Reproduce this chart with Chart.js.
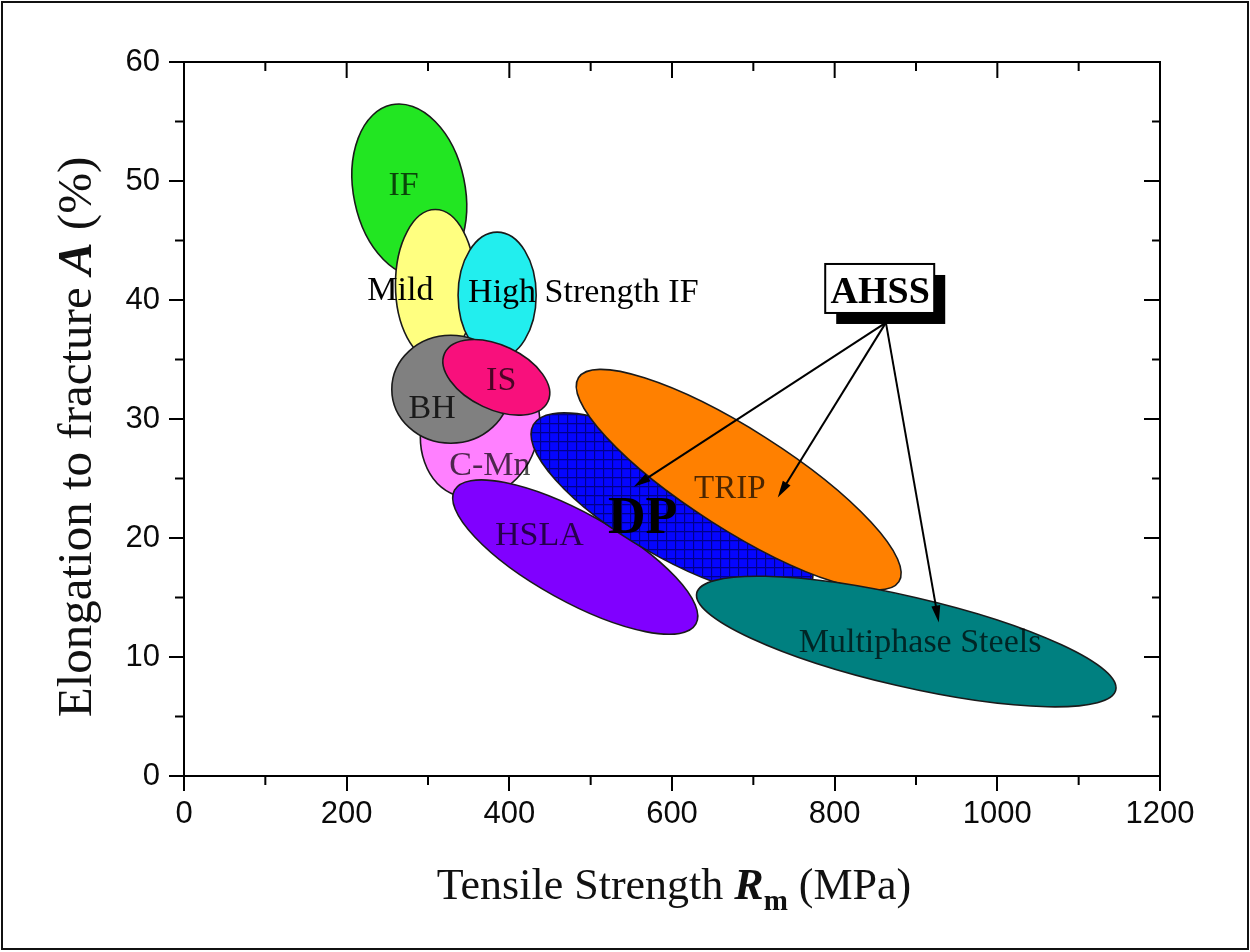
<!DOCTYPE html>
<html>
<head>
<meta charset="utf-8">
<title>Elongation to fracture vs tensile strength</title>
<script src="https://cdn.jsdelivr.net/npm/chart.js@4.4.1/dist/chart.umd.min.js"></script>
<style>
  html, body { margin: 0; padding: 0; background: #fff; }
  #graphique { display: block; }
</style>
</head>
<body>
<canvas id="graphique" width="1250" height="952"></canvas>
<script>
// ==========================================
//  DONNÉES
// ==========================================
const nuances = ['IF', 'Mild', 'High Strength IF', 'C-Mn', 'BH', 'IS', 'HSLA', 'DP', 'TRIP', 'Multiphase Steels'];

// centre de chaque domaine : Rm (MPa), A (%)
const centreRm = [277, 309, 385, 364, 328, 384, 481, 600, 682, 888];
const centreA  = [49.2, 41.3, 40.4, 29.1, 32.5, 33.5, 18.4, 22.8, 24.9, 11.3];

// deux demi-axes conjugués de chaque ellipse (MPa, %)
const axe1Rm = [-22, 0, 0, 67, 72.5, 63.5, 148.4, 170.4, 197, 257.6];
const axe1A  = [7.2, 6.3, 5.3, -1.66, 0, -2.03, -5.62, -6.72, -8.57, -4.07];
const axe2Rm = [67, 49, 48, -29.4, 0, -16.6, -26.2, -32, -33, -12.4];
const axe2A  = [1.0, 0, 0, -5.53, 4.54, -2.44, -3.24, -3.78, -3.54, -3.68];

// position des étiquettes (centre, ligne de base)
const etiquetteRm = [270, 266, 491, 376, 305, 390, 437, 564, 671, 905];
const etiquetteA  = [48.8, 40.0, 39.8, 25.3, 30.1, 32.4, 19.4, 20.4, 23.4, 10.4];

// encadré AHSS et ses flèches
const ahssRm = 856, ahssA = 39.75;
const flecheDepartRm = 863, flecheDepartA = 38.1;
const flecheArriveeRm = [553, 730, 928];
const flecheArriveeA  = [24.3, 23.4, 12.9];

// graduations
const ticksRm = [0, 200, 400, 600, 800, 1000, 1200];
const ticksA  = [0, 10, 20, 30, 40, 50, 60];

// ==========================================
//  STYLES
// ==========================================
const couleurs = ['#22e622', '#ffff80', '#22eeee', '#ff80ff', '#808080', '#f8107c', '#8000ff', 'MOTIF', '#ff8000', '#008080'];
const couleursTexte = ['rgba(0,0,0,0.7)', '#000', '#000', 'rgba(0,0,0,0.7)', 'rgba(0,0,0,0.8)', 'rgba(0,0,0,0.7)',
                       'rgba(0,0,0,0.7)', '#000', 'rgba(0,0,0,0.7)', 'rgba(0,0,0,0.7)'];
const SERIF = '"Liberation Serif", "Times New Roman", serif';
const SANS = '"Liberation Sans", Arial, sans-serif';

function motifDP(ctx) {
    const c = document.createElement('canvas');
    c.width = 9; c.height = 9;
    const g = c.getContext('2d');
    g.fillStyle = '#0505ff';
    g.fillRect(0, 0, 9, 9);
    g.strokeStyle = '#00008c';
    g.lineWidth = 1.3;
    g.beginPath();
    g.moveTo(0, 0.5); g.lineTo(9, 0.5);
    g.moveTo(0.5, 0); g.lineTo(0.5, 9);
    g.stroke();
    return ctx.createPattern(c, 'repeat');
}

// texte composé de morceaux de polices différentes, centré en x
function texteMixte(ctx, morceaux, cx, base) {
    let total = 0;
    morceaux.forEach(m => { ctx.font = m.f; total += ctx.measureText(m.t).width; });
    let x = cx - total / 2;
    ctx.textAlign = 'left';
    ctx.textBaseline = 'alphabetic';
    morceaux.forEach(m => {
        ctx.font = m.f;
        ctx.fillText(m.t, x, base + (m.dy || 0));
        x += ctx.measureText(m.t).width;
    });
}

// ==========================================
//  PLUGINS
// ==========================================
const pluginFond = {
    id: 'fond',
    beforeDraw(chart) {
        const ctx = chart.ctx;
        ctx.save();
        ctx.fillStyle = '#fff';
        ctx.fillRect(0, 0, chart.width, chart.height);
        ctx.restore();
    }
};

const pluginDomaines = {
    id: 'domaines',
    beforeDatasetsDraw(chart) {
        const ctx = chart.ctx;
        const sx = chart.scales.x, sy = chart.scales.y;
        const x0 = sx.getPixelForValue(0), y0 = sy.getPixelForValue(0);
        const motif = motifDP(ctx);

        nuances.forEach((nom, i) => {
            const cx = sx.getPixelForValue(centreRm[i]);
            const cy = sy.getPixelForValue(centreA[i]);
            const ux = sx.getPixelForValue(axe1Rm[i]) - x0, uy = sy.getPixelForValue(axe1A[i]) - y0;
            const vx = sx.getPixelForValue(axe2Rm[i]) - x0, vy = sy.getPixelForValue(axe2A[i]) - y0;

            ctx.save();
            ctx.beginPath();
            ctx.save();
            ctx.transform(ux, uy, vx, vy, cx, cy);
            ctx.arc(0, 0, 1, 0, Math.PI * 2);
            ctx.restore();
            ctx.fillStyle = couleurs[i] === 'MOTIF' ? motif : couleurs[i];
            ctx.fill();
            ctx.lineWidth = 1.6;
            ctx.strokeStyle = '#1a1a1a';
            ctx.stroke();
            ctx.restore();
        });
    },
    afterDatasetsDraw(chart) {
        const ctx = chart.ctx;
        const sx = chart.scales.x, sy = chart.scales.y;
        ctx.save();
        ctx.textAlign = 'center';
        ctx.textBaseline = 'alphabetic';
        nuances.forEach((nom, i) => {
            ctx.font = nom === 'DP' ? 'bold 52px ' + SERIF : (nom === 'TRIP' ? '33px ' : '34px ') + SERIF;
            ctx.fillStyle = couleursTexte[i];
            ctx.fillText(nom, sx.getPixelForValue(etiquetteRm[i]), sy.getPixelForValue(etiquetteA[i]));
        });

        // flèches AHSS
        const ax = sx.getPixelForValue(flecheDepartRm), ay = sy.getPixelForValue(flecheDepartA);
        ctx.strokeStyle = '#000';
        ctx.fillStyle = '#000';
        ctx.lineWidth = 2;
        flecheArriveeRm.forEach((rm, k) => {
            const bx = sx.getPixelForValue(rm), by = sy.getPixelForValue(flecheArriveeA[k]);
            const ang = Math.atan2(by - ay, bx - ax);
            ctx.beginPath();
            ctx.moveTo(ax, ay);
            ctx.lineTo(bx - 10 * Math.cos(ang), by - 10 * Math.sin(ang));
            ctx.stroke();
            ctx.save();
            ctx.translate(bx, by);
            ctx.rotate(ang);
            ctx.beginPath();
            ctx.moveTo(0, 0);
            ctx.lineTo(-17, -4.5);
            ctx.lineTo(-17, 4.5);
            ctx.closePath();
            ctx.fill();
            ctx.restore();
        });

        // encadré AHSS avec ombre
        const tx = sx.getPixelForValue(ahssRm), tb = sy.getPixelForValue(ahssA);
        const bx = tx - 55, by = tb - 39, bw = 109, bh = 49;
        ctx.fillStyle = '#000';
        ctx.fillRect(bx + 11, by + 11, bw, bh);
        ctx.fillStyle = '#fff';
        ctx.fillRect(bx, by, bw, bh);
        ctx.lineWidth = 2;
        ctx.strokeRect(bx, by, bw, bh);
        ctx.fillStyle = '#000';
        ctx.font = 'bold 38px ' + SERIF;
        ctx.textAlign = 'center';
        ctx.fillText('AHSS', tx, tb);
        ctx.restore();
    }
};

const pluginCadre = {
    id: 'cadre',
    afterDraw(chart) {
        const ctx = chart.ctx;
        const a = chart.chartArea;
        const sx = chart.scales.x, sy = chart.scales.y;
        ctx.save();
        ctx.strokeStyle = '#000';
        ctx.lineWidth = 2;

        // axes du haut et de droite
        ctx.beginPath();
        ctx.moveTo(a.left, a.top); ctx.lineTo(a.right, a.top); ctx.lineTo(a.right, a.bottom);
        ctx.stroke();

        ctx.beginPath();
        ticksRm.forEach((v, i) => {
            const x = sx.getPixelForValue(v);
            ctx.moveTo(x, a.top); ctx.lineTo(x, a.top + 16);
            if (i < ticksRm.length - 1) {
                const xm = sx.getPixelForValue((v + ticksRm[i + 1]) / 2);
                ctx.moveTo(xm, a.top); ctx.lineTo(xm, a.top + 9);
                ctx.moveTo(xm, a.bottom); ctx.lineTo(xm, a.bottom + 9);
            }
        });
        ticksA.forEach((v, i) => {
            const y = sy.getPixelForValue(v);
            ctx.moveTo(a.right, y); ctx.lineTo(a.right - 16, y);
            if (i < ticksA.length - 1) {
                const ym = sy.getPixelForValue((v + ticksA[i + 1]) / 2);
                ctx.moveTo(a.right, ym); ctx.lineTo(a.right - 8, ym);
                ctx.moveTo(a.left, ym); ctx.lineTo(a.left - 9, ym);
            }
        });
        ctx.stroke();

        // titres des axes
        ctx.fillStyle = '#111';
        texteMixte(ctx, [
            { t: 'Tensile Strength ', f: '44px ' + SERIF },
            { t: 'R', f: 'italic bold 44px ' + SERIF },
            { t: 'm', f: 'bold 29px ' + SERIF, dy: 11 },
            { t: ' (MPa)', f: '44px ' + SERIF }
        ], (a.left + a.right) / 2 + 2, a.bottom + 123);

        ctx.save();
        ctx.translate(91, (a.top + a.bottom) / 2 + 18);
        ctx.rotate(-Math.PI / 2);
        texteMixte(ctx, [
            { t: 'Elongation to fracture ', f: '49px ' + SERIF },
            { t: 'A', f: 'italic bold 49px ' + SERIF },
            { t: ' (%)', f: '49px ' + SERIF }
        ], 0, 0);
        ctx.restore();

        // cadre extérieur de la figure
        ctx.lineWidth = 2;
        ctx.strokeStyle = '#111';
        ctx.strokeRect(2, 2, 1246, 947);
        ctx.restore();
    }
};

// ==========================================
//  GRAPHIQUE
// ==========================================
const ctxGraphique = document.getElementById('graphique').getContext('2d');

new Chart(ctxGraphique, {
    type: 'scatter',
    data: {
        datasets: nuances.map((nom, i) => ({
            label: nom,
            data: [{ x: centreRm[i], y: centreA[i] }],
            pointRadius: 0,
            pointHoverRadius: 0
        }))
    },
    options: {
        responsive: false,
        animation: false,
        events: [],
        layout: { padding: { top: 62, right: 90, left: 0, bottom: 0 } },
        plugins: { legend: { display: false }, tooltip: { enabled: false } },
        scales: {
            x: {
                type: 'linear',
                min: 0, max: 1200,
                afterBuildTicks: s => { s.ticks = ticksRm.map(v => ({ value: v })); },
                afterFit: s => { s.height = 176; },
                grid: { display: true, drawOnChartArea: false, drawTicks: true, tickLength: 15, color: '#000', lineWidth: 2 },
                border: { display: true, color: '#000', width: 2 },
                ticks: { color: '#0a0a0a', font: { family: SANS, size: 31 }, padding: 5, maxRotation: 0, autoSkip: false,
                         callback: v => String(v) }
            },
            y: {
                type: 'linear',
                min: 0, max: 60,
                afterBuildTicks: s => { s.ticks = ticksA.map(v => ({ value: v })); },
                afterFit: s => { s.width = 184; },
                grid: { display: true, drawOnChartArea: false, drawTicks: true, tickLength: 15, color: '#000', lineWidth: 2 },
                border: { display: true, color: '#000', width: 2 },
                ticks: { color: '#0a0a0a', font: { family: SANS, size: 31 }, padding: 9, autoSkip: false,
                         callback: v => String(v) }
            }
        }
    },
    plugins: [pluginFond, pluginDomaines, pluginCadre]
});
</script>
</body>
</html>
